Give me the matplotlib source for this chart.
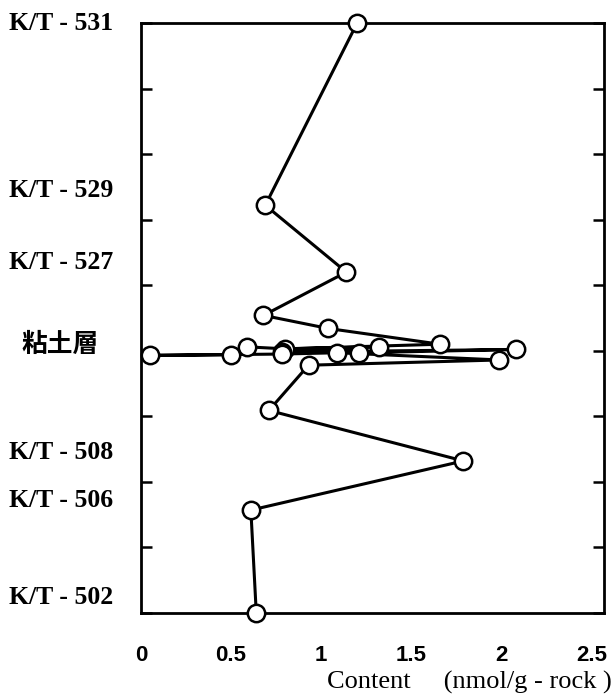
import matplotlib
matplotlib.use('Agg')
import matplotlib.pyplot as plt
import matplotlib.transforms as mtransforms

# content (nmol/g-rock) and stratigraphic position, top to bottom
content = [1.20, 0.69, 1.14, 0.68, 1.04, 1.66, 0.80, 1.32, 0.78, 2.08, 1.21,
           0.59, 0.50, 0.05, 0.78, 1.09, 1.99, 0.93, 0.71, 1.79, 0.61, 0.64]
level = [9.00, 6.22, 5.20, 4.54, 4.34, 4.10, 4.03, 4.06, 3.98, 4.02, 3.97,
         4.06, 3.94, 3.93, 3.95, 3.97, 3.86, 3.78, 3.09, 2.32, 1.57, 0.00]

sample_names = ['K/T - 531', 'K/T - 529', 'K/T - 527', '粘土層',
                'K/T - 508', 'K/T - 506', 'K/T - 502']
sample_levels = [9.0, 6.45, 5.35, 4.09, 2.45, 1.72, 0.23]

xticks = [0, 0.5, 1, 1.5, 2, 2.5]
xticklabels = ['0', '0.5', '1', '1.5', '2', '2.5']

fig = plt.figure(figsize=(6.14, 6.97), dpi=100)
ax = fig.add_axes([0.2296, 0.1205, 0.7541, 0.8465])

ax.plot(content, level, color='black', lw=2.2, marker='o', ms=12.5,
        mfc='white', mec='black', mew=1.8, clip_on=False, zorder=3)

ax.set_xlim(0, 2.57)
ax.set_ylim(0, 9)

for s in ax.spines.values():
    s.set_linewidth(2.0)

ax.set_yticks(range(10))
ax.set_yticklabels([])
ax.tick_params(axis='y', which='both', direction='in', length=8, width=1.8,
               left=True, right=True)
ax.set_xticks(xticks)
ax.set_xticklabels(xticklabels, fontfamily='Liberation Sans', fontweight='bold',
                   fontsize=16)
ax.tick_params(axis='x', length=0, pad=23)

trans = mtransforms.blended_transform_factory(fig.transFigure, ax.transData)
for name, y in zip(sample_names, sample_levels):
    if name == '粘土層':
        fig.text(0.035, y, name, transform=trans, va='center', ha='left',
                 fontsize=18.5, fontweight='bold',
                 family=['Noto Sans CJK JP', 'DejaVu Sans'])
    else:
        fig.text(0.015, y, name, transform=trans, va='center', ha='left',
                 fontsize=18.5, fontweight='bold', family='Liberation Serif')

fig.text(0.997, 0.0205, 'Content     (nmol/g - rock )', ha='right', va='center',
         fontsize=19, family='Liberation Serif')

fig.savefig('out.png', dpi=100)
